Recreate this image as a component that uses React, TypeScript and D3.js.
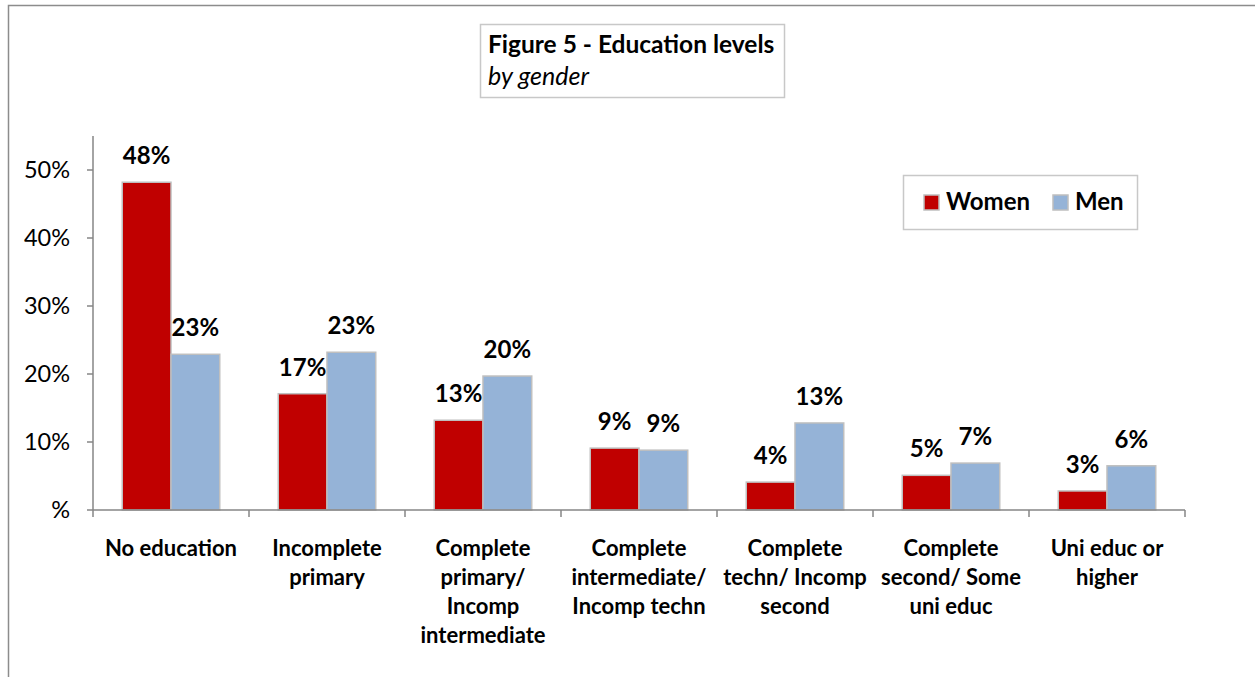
import { useEffect, useRef } from "react";
import * as d3 from "d3";

const categories = [
  ["No education"],
  ["Incomplete", "primary"],
  ["Complete", "primary/", "Incomp", "intermediate"],
  ["Complete", "intermediate/", "Incomp techn"],
  ["Complete", "techn/ Incomp", "second"],
  ["Complete", "second/ Some", "uni educ"],
  ["Uni educ or", "higher"],
];
const women = [0.482, 0.171, 0.132, 0.091, 0.041, 0.051, 0.028];
const men = [0.229, 0.232, 0.197, 0.088, 0.128, 0.069, 0.065];
const womenLabels = ["48%", "17%", "13%", "9%", "4%", "5%", "3%"];
const menLabels = ["23%", "23%", "20%", "9%", "13%", "7%", "6%"];
const yTicks = [0, 0.1, 0.2, 0.3, 0.4, 0.5];
const yTickLabels = ["%", "10%", "20%", "30%", "40%", "50%"];

const FONT = "Lato, 'Open Sans', sans-serif";
const RED = "#c00000";
const BLUE = "#95b3d7";

export default function App() {
  const ref = useRef<SVGSVGElement | null>(null);

  useEffect(() => {
    if (!ref.current) return;
    ref.current.innerHTML = "";
    const svg = d3.select(ref.current);

    // outer frame
    svg
      .append("path")
      .attr("d", "M8.5,677 L8.5,5.5 L1255,5.5")
      .attr("fill", "none")
      .attr("stroke", "#8c8c8c")
      .attr("stroke-width", 1.5);

    const left = 93,
      right = 1185,
      bottom = 510;

    const x = d3
      .scaleBand<number>()
      .domain(d3.range(categories.length))
      .range([left, right]);
    const y = d3.scaleLinear().domain([0, 0.55]).range([bottom, bottom - 680 * 0.55]);

    const inner = d3
      .scaleBand<string>()
      .domain(["w", "m"])
      .range([0, x.bandwidth()])
      .paddingInner(0)
      .paddingOuter(0.6);

    // y axis
    svg
      .append("line")
      .attr("x1", left)
      .attr("x2", left)
      .attr("y1", y(0.55))
      .attr("y2", bottom)
      .attr("stroke", "#868686")
      .attr("stroke-width", 1.5);
    const yt = svg.append("g");
    yTicks.forEach((t, i) => {
      yt.append("line")
        .attr("x1", left - 6)
        .attr("x2", left)
        .attr("y1", y(t))
        .attr("y2", y(t))
        .attr("stroke", "#868686")
        .attr("stroke-width", 1.5);
      yt.append("text")
        .attr("x", 70)
        .attr("y", y(t))
        .attr("dy", "0.36em")
        .attr("text-anchor", "end")
        .attr("font-family", FONT)
        .attr("font-size", 23.5)
        .attr("fill", "#000")
        .text(yTickLabels[i]);
    });

    // bars
    const g = svg.append("g");
    categories.forEach((_, i) => {
      const x0 = x(i)!;
      [
        { k: "w", v: women[i], c: RED, l: womenLabels[i] },
        { k: "m", v: men[i], c: BLUE, l: menLabels[i] },
      ].forEach((d) => {
        const bx = x0 + inner(d.k)!;
        g.append("rect")
          .attr("x", bx)
          .attr("y", y(d.v))
          .attr("width", inner.bandwidth())
          .attr("height", bottom - y(d.v))
          .attr("fill", d.c)
          .attr("stroke", "#bfbfbf")
          .attr("stroke-width", 1.5);
        g.append("text")
          .attr("x", bx + inner.bandwidth() / 2)
          .attr("y", y(d.v) - 18)
          .attr("text-anchor", "middle")
          .attr("font-family", FONT)
          .attr("font-weight", "bold")
          .attr("font-size", 24)
          .attr("fill", "#000")
          .text(d.l);
      });
    });

    // x axis
    svg
      .append("line")
      .attr("x1", left)
      .attr("x2", right)
      .attr("y1", bottom)
      .attr("y2", bottom)
      .attr("stroke", "#868686")
      .attr("stroke-width", 1.5);
    d3.range(categories.length + 1).forEach((i) => {
      const tx = i < categories.length ? x(i)! : right;
      svg
        .append("line")
        .attr("x1", tx)
        .attr("x2", tx)
        .attr("y1", bottom)
        .attr("y2", bottom + 7)
        .attr("stroke", "#868686")
        .attr("stroke-width", 1.5);
    });
    categories.forEach((lines, i) => {
      const t = svg
        .append("text")
        .attr("text-anchor", "middle")
        .attr("font-family", FONT)
        .attr("font-weight", "bold")
        .attr("font-size", 22)
        .attr("fill", "#000");
      lines.forEach((ln, j) => {
        t.append("tspan")
          .attr("x", x(i)! + x.bandwidth() / 2)
          .attr("y", 556 + j * 29)
          .text(ln);
      });
    });

    // title box
    svg
      .append("rect")
      .attr("x", 480.5)
      .attr("y", 24.5)
      .attr("width", 304)
      .attr("height", 73)
      .attr("fill", "#fff")
      .attr("stroke", "#c8c8c8")
      .attr("stroke-width", 1.5);
    svg
      .append("text")
      .attr("x", 488)
      .attr("y", 53)
      .attr("font-family", FONT)
      .attr("font-weight", "bold")
      .attr("font-size", 24.5)
      .text("Figure 5 - Education levels");
    svg
      .append("text")
      .attr("x", 488)
      .attr("y", 85)
      .attr("font-family", FONT)
      .attr("font-style", "italic")
      .attr("font-size", 25)
      .text("by gender");

    // legend
    svg
      .append("rect")
      .attr("x", 903.5)
      .attr("y", 175.5)
      .attr("width", 234)
      .attr("height", 54)
      .attr("fill", "#fff")
      .attr("stroke", "#c8c8c8")
      .attr("stroke-width", 1.5);
    [
      { n: "Women", c: RED, x: 924 },
      { n: "Men", c: BLUE, x: 1053 },
    ].forEach((d) => {
      svg
        .append("rect")
        .attr("x", d.x)
        .attr("y", 195)
        .attr("width", 15)
        .attr("height", 15)
        .attr("fill", d.c)
        .attr("stroke", "#bfbfbf")
        .attr("stroke-width", 1.5);
      svg
        .append("text")
        .attr("x", d.x + 22)
        .attr("y", 210)
        .attr("font-family", FONT)
        .attr("font-weight", "bold")
        .attr("font-size", 24)
        .text(d.n);
    });
  }, []);

  return (
    <svg
      ref={ref}
      width={1255}
      height={677}
      style={{ position: "absolute", left: 0, top: 0, background: "#fff" }}
    />
  );
}
